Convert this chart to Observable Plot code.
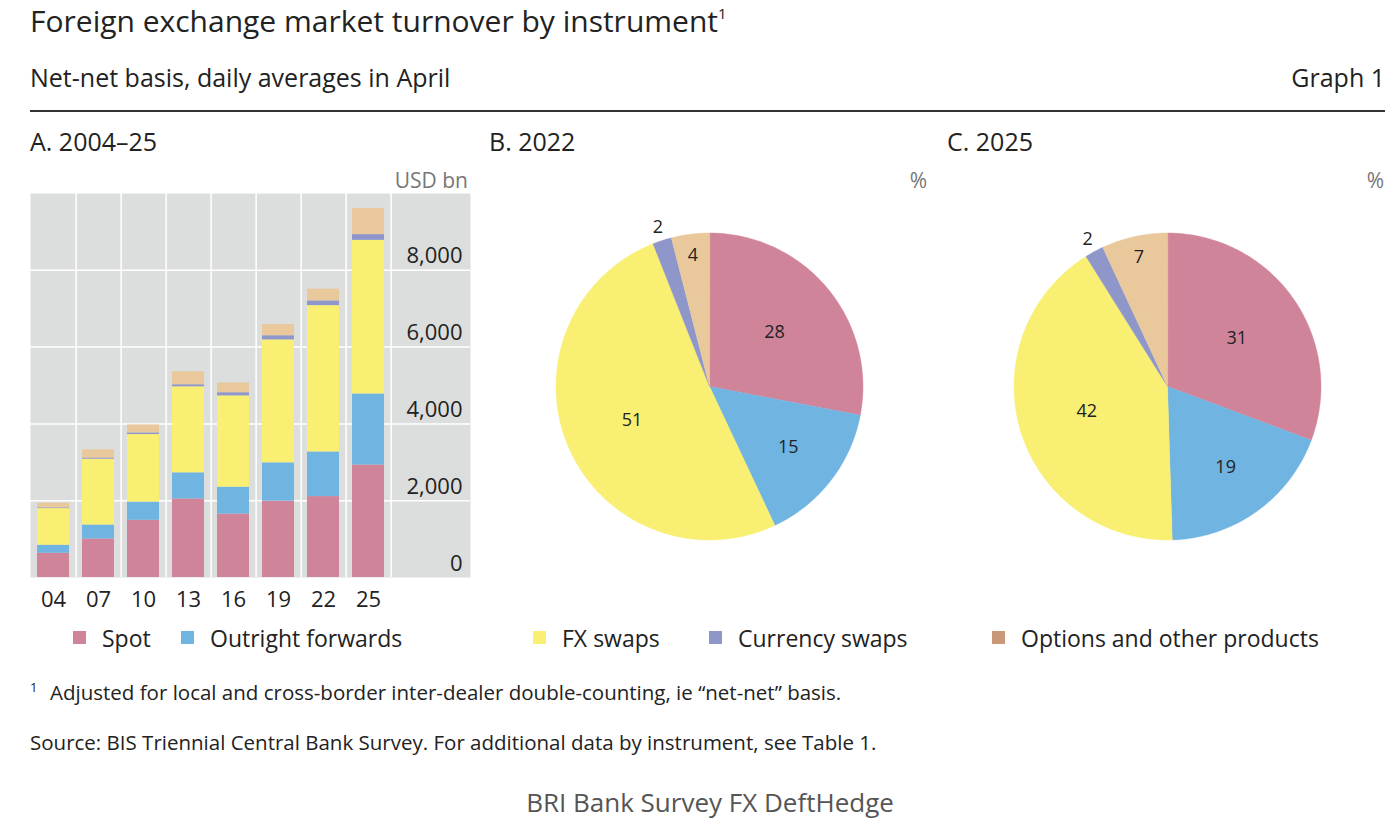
<!DOCTYPE html>
<html>
<head>
<meta charset="utf-8">
<script src="https://cdn.jsdelivr.net/npm/d3@7"></script>
<script src="https://cdn.jsdelivr.net/npm/@observablehq/plot@0.6"></script>
<style>
  html, body { margin: 0; padding: 0; background: #ffffff; }
  body { width: 1400px; height: 827px; position: relative; overflow: hidden; font-family: "Open Sans", "Noto Sans", sans-serif; color: #222; }
  .abs { position: absolute; white-space: nowrap; line-height: 1; }
  .swatch { position: absolute; width: 13px; height: 13px; }
  sup { font-size: 0.5em; vertical-align: 0; position: relative; top: -0.9em; }
</style>
</head>
<body>
<div id="root"></div>
<script>
// ---------- DATA ----------
const years = ["04", "07", "10", "13", "16", "19", "22", "25"];
const instruments = ["Spot", "Outright forwards", "FX swaps", "Currency swaps", "Options and other products"];
// USD bn, daily averages in April
const spot             = [631, 1005, 1489, 2047, 1652, 1987, 2107, 2930];
const outrightForwards = [209,  362,  475,  679,  700,  999, 1163, 1850];
const fxSwaps          = [954, 1714, 1759, 2240, 2378, 3202, 3810, 4000];
const currencySwaps    = [ 21,   31,   43,   54,   82,  108,  124,  150];
const optionsOther     = [119,  212,  207,  337,  254,  294,  304,  680];
const yTicks = [0, 2000, 4000, 6000, 8000];
// Shares, per cent
const share2022 = [28, 15, 51, 2, 4];
const share2025 = [31, 19, 42, 2, 7];

// ---------- STYLE ----------
const colors = ["#d0849a", "#70b4e2", "#f8ef73", "#8f97ca", "#e9c99b"];
const legendColors = ["#d0849a", "#70b4e2", "#f8ef73", "#8f97ca", "#c99878"];
const FONT = '"Open Sans", "Noto Sans", sans-serif';
const root = document.getElementById("root");

function addText(html, left, centerY, size, extra = {}) {
  const d = document.createElement("div");
  d.className = "abs";
  d.innerHTML = html;
  d.style.fontSize = size + "px";
  d.style.top = (centerY - size / 2) + "px";
  if (extra.right != null) d.style.right = extra.right + "px"; else d.style.left = left + "px";
  if (extra.color) d.style.color = extra.color;
  if (extra.center) { d.style.left = left + "px"; d.style.transform = "translateX(-50%)"; }
  root.appendChild(d);
  return d;
}

// Header
addText('Foreign exchange market turnover by instrument<sup>1</sup>', 30, 21, 30);
addText('Net-net basis, daily averages in April', 30, 77, 25);
addText('Graph 1', 0, 77, 25, {right: 15});
const rule = document.createElement("div");
Object.assign(rule.style, {position: "absolute", left: "30px", top: "110px", width: "1355px", height: "1.5px", background: "#333"});
root.appendChild(rule);

addText('A. 2004–25', 30, 141, 25);
addText('B. 2022', 489, 141, 25);
addText('C. 2025', 947, 141, 25);
addText('USD bn', 0, 180, 21, {right: 1400 - 468, color: "#777"});
addText('%', 0, 180, 21, {right: 1400 - 927, color: "#777"});
addText('%', 0, 180, 21, {right: 1400 - 1384, color: "#777"});

const colorScale = {domain: instruments, range: colors};

// ---------- PANEL A: stacked bars ----------
const series = [spot, outrightForwards, fxSwaps, currencySwaps, optionsOther];
const barData = [];
years.forEach((yr, i) => instruments.forEach((inst, k) => barData.push({year: yr, instrument: inst, value: series[k][i]})));

const barW = 440, barPlotH = 384, barStepRange = 362;
const step = barStepRange / years.length;
const barChart = Plot.plot({
  width: barW,
  height: barPlotH + 45,
  marginTop: 0, marginBottom: 45, marginLeft: 0, marginRight: 0,
  style: {fontFamily: FONT, fontSize: "22px", color: "#222", background: "transparent", overflow: "visible"},
  x: {type: "band", domain: years, range: [0, barStepRange], paddingInner: 0.28, paddingOuter: 0.14, label: null},
  y: {domain: [0, 10000], label: null},
  color: colorScale,
  marks: [
    Plot.frame({fill: "#dcdddd", stroke: null}),
    Plot.ruleX(years, {x: d => d, dx: step / 2, stroke: "white", strokeWidth: 1.5}),
    Plot.ruleY(yTicks.slice(1), {stroke: "white", strokeWidth: 1.5}),
    Plot.barY(barData, {x: "year", y: "value", fill: "instrument", order: instruments}),
    Plot.axisX({tickSize: 0, tickPadding: 14, fontSize: 22}),
    Plot.axisY({anchor: "right", ticks: yTicks, tickSize: 0, tickPadding: 0, textAnchor: "end", dx: -8, dy: -14, tickFormat: d3.format(","), fontSize: 22})
  ]
});
barChart.style.position = "absolute";
barChart.style.left = "30px";
barChart.style.top = "193px";
root.appendChild(barChart);

// ---------- PANELS B, C: pies ----------
function pieChart(shares, left) {
  const W = 440, H = 386, R = 153.5;
  const rows = instruments.map((inst, k) => ({instrument: inst, value: shares[k]}));
  const arcs = d3.pie().sort(null).value(d => d.value)(rows);
  const pts = [];
  arcs.forEach(a => {
    pts.push({instrument: a.data.instrument, x: 0, y: 0});
    const n = Math.max(2, Math.ceil((a.endAngle - a.startAngle) / (Math.PI / 180)));
    for (let j = 0; j <= n; j++) {
      const t = a.startAngle + (a.endAngle - a.startAngle) * j / n;
      pts.push({instrument: a.data.instrument, x: Math.sin(t), y: Math.cos(t)});
    }
  });
  const labelR = v => v >= 25 ? 0.55 : v >= 10 ? 0.65 : v >= 3 ? 0.86 : 1.09;
  const labels = arcs.map(a => {
    const m = (a.startAngle + a.endAngle) / 2, r = labelR(a.data.value);
    return {text: String(a.data.value), x: r * Math.sin(m), y: r * Math.cos(m)};
  });
  const chart = Plot.plot({
    width: W, height: H,
    margin: 0,
    style: {fontFamily: FONT, fontSize: "18px", color: "#222", background: "transparent", overflow: "visible"},
    x: {domain: [-W / 2 / R, W / 2 / R], axis: null},
    y: {domain: [-H / 2 / R, H / 2 / R], axis: null},
    color: colorScale,
    marks: [
      Plot.line(pts, {x: "x", y: "y", z: "instrument", fill: "instrument", stroke: "instrument", strokeWidth: 0.4, curve: "linear-closed"}),
      Plot.text(labels, {x: "x", y: "y", text: "text", fill: "#222", fontSize: 18})
    ]
  });
  chart.style.position = "absolute";
  chart.style.left = left + "px";
  chart.style.top = "193px";
  root.appendChild(chart);
}
pieChart(share2022, 489);
pieChart(share2025, 947);

// ---------- LEGEND ----------
const legendX = [73, 181, 533, 709, 992];
instruments.forEach((inst, k) => {
  const s = document.createElement("div");
  s.className = "swatch";
  s.style.left = legendX[k] + "px";
  s.style.top = "631px";
  s.style.background = legendColors[k];
  root.appendChild(s);
  addText(inst, legendX[k] + 29, 638, 23);
});

// ---------- FOOTNOTES ----------
addText('<span style="font-size:13px;position:relative;top:-8px">1</span>', 30, 692, 20.5);
addText('Adjusted for local and cross-border inter-dealer double-counting, ie “net-net” basis.', 50, 692, 20.5);
addText('Source: BIS Triennial Central Bank Survey. For additional data by instrument, see Table 1.', 30, 742, 20.5);
addText('BRI Bank Survey FX DeftHedge', 710, 802, 26, {center: true, color: "#555"});
</script>
</body>
</html>
